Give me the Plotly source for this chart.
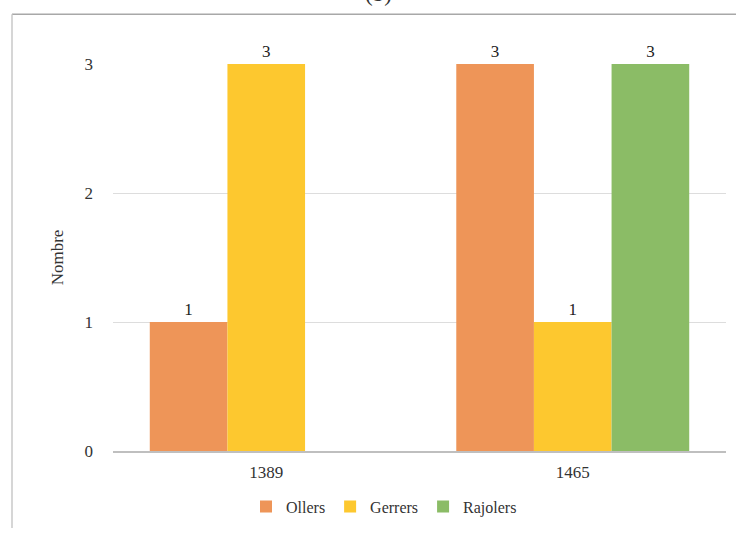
import plotly.graph_objects as go

years = ["1389", "1465"]
ollers = [1, 3]
gerrers = [3, 1]
rajolers = [None, 3]
series_names = ["Ollers", "Gerrers", "Rajolers"]
colors = ["#EE9558", "#FDC82F", "#8BBC66"]
y_ticks = [0, 1, 2, 3]

font = "Liberation Serif"
fig = go.Figure()
for name, vals, col in zip(series_names, [ollers, gerrers, rajolers], colors):
    fig.add_trace(go.Bar(
        x=years, y=vals, name=name, marker_color=col, marker_line_width=0,
        text=[("" if v is None else str(v)) for v in vals],
        textposition="outside", cliponaxis=False,
        textfont=dict(family=font, size=17, color="#222222"),
    ))

L, R, T, B = 113, 10, 64, 73
W, H = 736, 534
pw, ph = W - L - R, H - T - B

def px(x):
    return (x - L) / pw

def py(y):
    return 1 - (y - T) / ph

fig.update_layout(
    width=W, height=H,
    margin=dict(l=L, r=R, t=T, b=B),
    paper_bgcolor="white", plot_bgcolor="white",
    barmode="group", bargap=0.24, bargroupgap=0,
    font=dict(family=font, size=16, color="#333333"),
    showlegend=True,
    legend=dict(orientation="h", x=px(384), xanchor="center", y=py(518), yanchor="middle",
                font=dict(family=font, size=16, color="#333333"),
                itemwidth=30, traceorder="normal", itemsizing="constant",
                tracegroupgap=0),
    xaxis=dict(type="category", showgrid=False, showline=True, linecolor="#BFBFBF",
               linewidth=1.5, ticks="", tickfont=dict(family=font, size=17, color="#333333"),
               ticklabelstandoff=5, range=[-0.5, 1.5]),
    yaxis=dict(range=[0, 3], tickvals=y_ticks, showgrid=True, gridcolor="#DDDDDD",
               gridwidth=1, zeroline=False, showline=False, ticks="",
               tickfont=dict(family=font, size=17, color="#333333"),
               ticklabelstandoff=19,
               title=dict(text="Nombre", font=dict(family=font, size=17, color="#333333"),
                          standoff=16)),
    shapes=[
        dict(type="line", xref="paper", yref="paper", x0=px(12), x1=px(736), y0=py(13), y1=py(13),
             line=dict(color="#A8A8A8", width=1.5)),
        dict(type="line", xref="paper", yref="paper", x0=px(12), x1=px(12), y0=py(13), y1=py(540),
             line=dict(color="#C8C8C8", width=1.5)),
    ],
    annotations=[
        dict(text="(b)", xref="paper", yref="paper", x=px(378), y=py(7), xanchor="center",
             yanchor="bottom", showarrow=False, font=dict(family=font, size=23, color="#333333")),
    ],
)

fig.write_html("out.html", config={"displayModeBar": False},
               post_script="document.body.style.margin='0';document.body.style.overflow='hidden';")
